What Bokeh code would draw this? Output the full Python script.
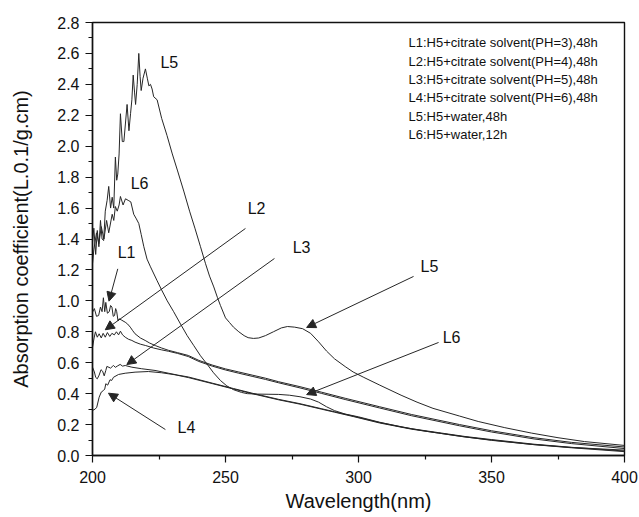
from bokeh.plotting import figure
from bokeh.models import (Range1d, FixedTicker, NumeralTickFormatter, Label,
                          Arrow, NormalHead, ColumnDataSource)
from bokeh.embed import file_html
from bokeh.resources import INLINE

# ---------------- data ----------------
l1_x = [200, 200.7, 201.5, 202.3, 203, 203.6, 204.1, 204.6, 205, 205.6,
        206.3, 206.8, 207.3, 207.8, 208.3, 208.7, 209.1, 209.6, 210, 211,
        212.3, 213.2, 214.2, 215, 216, 218, 219.8, 221.5, 223.6, 226,
        228.6, 232, 236, 240, 245, 250, 255, 260, 265, 270,
        278, 286, 295, 308, 320, 338, 350, 366, 380, 400]
l1_y = [0.927, 0.95, 0.90, 0.905, 0.96, 0.93, 1.02, 0.93, 0.99, 0.92,
        0.93, 0.97, 0.96, 0.90, 0.905, 0.95, 0.93, 0.87, 0.884, 0.875,
        0.862, 0.85, 0.83, 0.81, 0.787, 0.76, 0.744, 0.727, 0.711, 0.695,
        0.68, 0.665, 0.647, 0.615, 0.585, 0.56, 0.54, 0.52, 0.50, 0.477,
        0.445, 0.41, 0.37, 0.315, 0.265, 0.2, 0.16, 0.115, 0.085, 0.055]

l2_x = [200, 200.6, 201.1, 201.8, 202.5, 203.3, 204, 204.8, 205.6, 206.5,
        207.3, 208.2, 209, 209.8, 210.5, 211.3, 212.3, 213.5, 214.8, 216,
        218, 220, 223, 226, 228.6, 232, 236, 240, 245, 250,
        255, 260, 265, 270, 278, 286, 295, 308, 320, 338,
        350, 366, 380, 400]
l2_y = [0.70, 0.76, 0.80, 0.765, 0.787, 0.76, 0.79, 0.765, 0.795, 0.77,
        0.79, 0.78, 0.80, 0.78, 0.804, 0.78, 0.765, 0.752, 0.744, 0.733,
        0.72, 0.711, 0.695, 0.683, 0.674, 0.66, 0.64, 0.608, 0.578, 0.553,
        0.532, 0.512, 0.492, 0.47, 0.437, 0.402, 0.362, 0.307, 0.257, 0.192,
        0.152, 0.107, 0.077, 0.045]

l3_x = [200, 200.7, 201.2, 201.8, 202.5, 203.2, 203.8, 204.4, 205, 205.4,
        206.2, 206.8, 207.4, 207.9, 208.6, 209.3, 210.4, 211.3, 212.3, 214.8,
        218.5, 223.5, 228.6, 232, 236, 245, 253, 260, 270, 278,
        286, 291, 298, 308, 320, 330, 340, 350, 366, 380, 400]
l3_y = [0.571, 0.54, 0.505, 0.496, 0.52, 0.555, 0.545, 0.515, 0.55, 0.576,
        0.57, 0.565, 0.575, 0.582, 0.57, 0.578, 0.589, 0.578, 0.582, 0.571,
        0.561, 0.55, 0.532, 0.52, 0.508, 0.468, 0.433, 0.403, 0.363, 0.335,
        0.303, 0.283, 0.255, 0.213, 0.173, 0.148, 0.123, 0.103, 0.073, 0.053, 0.029]

l4_x = [200, 201, 201.6, 202.5, 203.3, 204.1, 204.6, 205, 205.7, 206.6,
        207.2, 207.9, 209.8, 212.3, 216, 221, 226, 231, 236, 245,
        253, 260, 270, 278, 286, 291, 298, 308, 320, 330,
        340, 350, 366, 380, 400]
l4_y = [0.291, 0.30, 0.312, 0.377, 0.41, 0.42, 0.43, 0.464, 0.455, 0.49,
        0.485, 0.506, 0.524, 0.532, 0.539, 0.543, 0.535, 0.522, 0.504, 0.465,
        0.43, 0.40, 0.36, 0.332, 0.30, 0.28, 0.252, 0.21, 0.17, 0.145,
        0.12, 0.10, 0.07, 0.05, 0.025]

l5_x = [200, 200.5, 201.2, 201.8, 202.4, 203, 203.6, 204.2, 204.8, 205.5,
        206.1, 206.8, 207.4, 208, 208.6, 209.1, 209.5, 210, 210.5, 211.2,
        211.8, 212.4, 213, 213.7, 214.3, 214.8, 215.3, 215.8, 216.2, 216.8,
        217.4, 217.9, 218.3, 219, 219.9, 220.6, 221.2, 221.8, 222.4, 223,
        224.3, 226, 228, 230, 232, 234.3, 236.5, 238.5, 240.6, 242.5,
        244, 245.6, 247, 248.1, 250, 251.5, 253, 255, 257, 258.5,
        260.5, 262.5, 265, 268, 271, 273.3, 276, 279, 282, 285,
        288, 291, 295, 298, 302, 308, 316, 322, 328, 338,
        345, 355, 365, 375, 385, 400]
l5_y = [1.38, 1.47, 1.30, 1.455, 1.35, 1.52, 1.40, 1.39, 1.58, 1.65,
        1.74, 1.60, 1.67, 1.60, 1.93, 1.78, 1.82, 1.95, 2.21, 2.03,
        2.03, 2.15, 2.27, 2.10, 2.21, 2.30, 2.46, 2.35, 2.27, 2.40,
        2.60, 2.45, 2.36, 2.44, 2.50, 2.44, 2.39, 2.40, 2.37, 2.32,
        2.30, 2.18, 2.07, 1.95, 1.84, 1.71, 1.58, 1.47, 1.35, 1.24,
        1.16, 1.09, 1.02, 0.97, 0.89, 0.86, 0.83, 0.80, 0.775, 0.762,
        0.757, 0.76, 0.775, 0.80, 0.825, 0.834, 0.83, 0.82, 0.79, 0.735,
        0.675, 0.625, 0.575, 0.54, 0.505, 0.455, 0.39, 0.345, 0.305, 0.255,
        0.22, 0.18, 0.145, 0.115, 0.09, 0.065]

l6_x = [200, 200.5, 201.5, 202.4, 203.3, 204.3, 205.3, 206.1, 207.4, 208,
        208.6, 209.3, 210, 210.5, 211.5, 212.4, 213.4, 214.4, 215.5, 216.5,
        217.4, 218.3, 219.3, 220.5, 221.8, 224.3, 226, 228.1, 230.5, 233.1,
        235.6, 238.1, 240.6, 243.1, 245.5, 248.1, 250.5, 253.1, 256, 258.2,
        262, 266, 270, 274, 278, 282, 285, 288, 291, 295,
        300, 308, 316, 325, 338, 350, 365, 380, 400]
l6_y = [1.24, 1.33, 1.44, 1.37, 1.48, 1.40, 1.52, 1.44, 1.56, 1.52,
        1.61, 1.58, 1.62, 1.675, 1.62, 1.66, 1.65, 1.64, 1.56, 1.53,
        1.50, 1.43, 1.35, 1.27, 1.22, 1.13, 1.07, 1.0, 0.93, 0.85,
        0.775, 0.71, 0.645, 0.59, 0.535, 0.485, 0.45, 0.425, 0.408, 0.40,
        0.397, 0.396, 0.395, 0.39, 0.38, 0.365, 0.345, 0.315, 0.29, 0.268,
        0.25, 0.215, 0.185, 0.158, 0.125, 0.098, 0.072, 0.052, 0.035]

x_ticks = [200, 250, 300, 350, 400]
x_minor = [225, 275, 325, 375]
y_ticks = [0.0, 0.2, 0.4, 0.6, 0.8, 1.0, 1.2, 1.4, 1.6, 1.8, 2.0, 2.2, 2.4, 2.6, 2.8]
y_minor = [0.1, 0.3, 0.5, 0.7, 0.9, 1.1, 1.3, 1.5, 1.7, 1.9, 2.1, 2.3, 2.5, 2.7]

legend_lines = [
    "L1:H5+citrate solvent(PH=3),48h",
    "L2:H5+citrate solvent(PH=4),48h",
    "L3:H5+citrate solvent(PH=5),48h",
    "L4:H5+citrate solvent(PH=6),48h",
    "L5:H5+water,48h",
    "L6:H5+water,12h",
]

# ---------------- annotations (positions in data units) ----------------
ann_text = ["L5", "L6", "L1", "L2", "L3", "L4", "L5", "L6"]
ann_x = [228.9, 217.7, 212.8, 261.7, 278.6, 235.3, 326.7, 335.0]
ann_y = [2.54, 1.762, 1.31, 1.597, 1.342, 0.184, 1.219, 0.76]

arr_x0 = [209.5, 257.5, 268.4, 227.4, 320.7, 330.1]
arr_y0 = [1.207, 1.468, 1.274, 0.168, 1.158, 0.731]
arr_x1 = [206.2, 204.8, 212.9, 206.0, 280.5, 280.5]
arr_y1 = [0.998, 0.813, 0.588, 0.403, 0.828, 0.394]

legend_x = 318.8
legend_y0 = 2.669
legend_dy = 0.1185

# ---------------- figure ----------------
FONT = "Liberation Sans"
LINE = "#262626"

p = figure(width=638, height=516, output_backend="svg",
           toolbar_location=None,
           x_range=Range1d(200, 400), y_range=Range1d(0, 2.8),
           min_border_left=92, min_border_right=14,
           min_border_top=22, min_border_bottom=61)
p.background_fill_color = "white"
p.border_fill_color = "white"
p.outline_line_color = "#111111"
p.outline_line_width = 1.4
p.grid.visible = False

series = [(l1_x, l1_y), (l2_x, l2_y), (l3_x, l3_y),
          (l4_x, l4_y), (l5_x, l5_y), (l6_x, l6_y)]
for xs, ys in series:
    p.line(xs, ys, line_color=LINE, line_width=1)

for ax in (p.xaxis[0], p.yaxis[0]):
    ax.axis_line_color = "#111111"
    ax.axis_line_width = 1.4
    ax.major_tick_line_color = "#111111"
    ax.minor_tick_line_color = "#111111"
    ax.major_tick_line_width = 1.2
    ax.minor_tick_line_width = 1.2
    ax.major_tick_in = 0
    ax.major_tick_out = 7
    ax.minor_tick_in = 0
    ax.minor_tick_out = 4
    ax.major_label_text_font = FONT
    ax.major_label_text_font_size = "16px"
    ax.major_label_text_color = "#111111"
    ax.axis_label_text_font = FONT
    ax.axis_label_text_font_style = "normal"
    ax.axis_label_text_color = "#111111"

p.xaxis[0].axis_label_text_font_size = "20px"
p.yaxis[0].axis_label_text_font_size = "20px"
p.xaxis[0].major_label_standoff = 8
p.yaxis[0].major_label_standoff = 6
p.xaxis[0].ticker = FixedTicker(ticks=x_ticks, minor_ticks=x_minor)
p.yaxis[0].ticker = FixedTicker(ticks=y_ticks, minor_ticks=y_minor)
p.yaxis[0].formatter = NumeralTickFormatter(format="0.0")
p.xaxis[0].axis_label = "Wavelength(nm)"
p.yaxis[0].axis_label = "Absorption coefficient(L.0.1/g.cm)"
p.xaxis[0].axis_label_standoff = 4
p.yaxis[0].axis_label_standoff = 22

# arrows
asrc = ColumnDataSource(dict(x0=arr_x0, y0=arr_y0, x1=arr_x1, y1=arr_y1))
p.add_layout(Arrow(x_start="x0", y_start="y0", x_end="x1", y_end="y1",
                   source=asrc, line_color=LINE, line_width=1,
                   end=NormalHead(size=9, fill_color=LINE, line_color=LINE,
                                  line_width=1)))

for t, x, y in zip(ann_text, ann_x, ann_y):
    p.add_layout(Label(x=x, y=y, text=t, text_font=FONT,
                       text_font_size="16px", text_color="#111111",
                       text_align="center", text_baseline="middle"))

for i, t in enumerate(legend_lines):
    p.add_layout(Label(x=legend_x, y=legend_y0 - i * legend_dy, text=t,
                       text_font=FONT, text_font_size="13px",
                       text_color="#111111",
                       text_align="left", text_baseline="middle"))

open("out.html", "w").write(file_html(p, INLINE))
